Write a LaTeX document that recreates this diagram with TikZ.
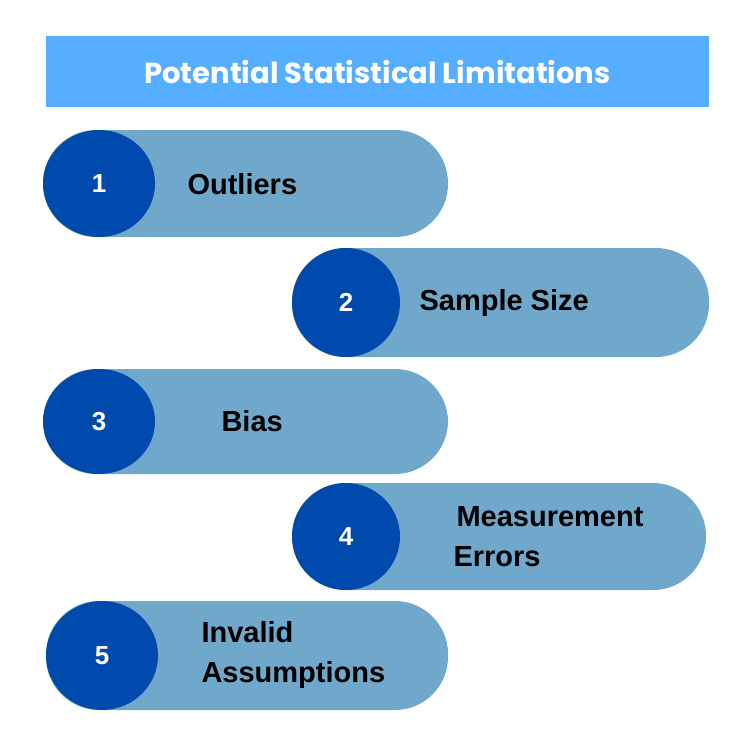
\documentclass[tikz,border=0pt]{standalone}
\usepackage{fontspec}
\setmainfont{Liberation Sans}
\newfontfamily\titlefont{Poppins}
\definecolor{titleblue}{HTML}{55AEFF}
\definecolor{pillblue}{HTML}{6FA8CB}
\definecolor{darkblue}{HTML}{004AAD}
\begin{document}
\begin{tikzpicture}[x=1pt,y=-1pt,
  pill/.style={fill=pillblue,rounded corners=53pt},
  numcirc/.style={fill=darkblue,ellipse},
  numtext/.style={text=white,font=\bfseries\fontsize{26}{30}\selectfont},
  label/.style={text=black,font=\bfseries\fontsize{29}{40}\selectfont,anchor=west,align=left}]
\useasboundingbox[fill=white] (0,0) rectangle (756,747);
\fill[titleblue] (46,36) rectangle (709,107);
\node[text=white,font=\titlefont\bfseries\fontsize{29}{34}\selectfont] (title) at (377.5,72) {Potential Statistical Limitations};
% pill 1
\fill[pill] (43,130) rectangle (448,237);
\fill[darkblue] (99,183.5) ellipse (56 and 53.5);
\node[numtext] (n1) at (99,183.5) {1};
\node[label] (l1) at (184,184) {Outliers};
% pill 2
\fill[pill] (292,248) rectangle (709,357);
\fill[darkblue] (346,302.5) ellipse (54 and 54.5);
\node[numtext] (n2) at (346,302.5) {2};
\node[label] (l2) at (416,303) {Sample Size};
% pill 3
\fill[pill] (43,369) rectangle (448,474);
\fill[darkblue] (99,421.5) ellipse (56 and 52.5);
\node[numtext] (n3) at (99,421.5) {3};
\node[label] (l3) at (218,421) {Bias};
% pill 4
\fill[pill] (292,483) rectangle (706,590);
\fill[darkblue] (346,536.5) ellipse (54 and 53.5);
\node[numtext] (n4) at (346,536.5) {4};
\node[label] (l4) at (450,537) {\hspace*{3pt}Measurement\\Errors};
% pill 5
\fill[pill] (46,601) rectangle (448,710);
\fill[darkblue] (102,655.5) ellipse (56 and 54.5);
\node[numtext] (n5) at (102,655.5) {5};
\node[label] (l5) at (198,655) {Invalid\\Assumptions};
\end{tikzpicture}
\end{document}
